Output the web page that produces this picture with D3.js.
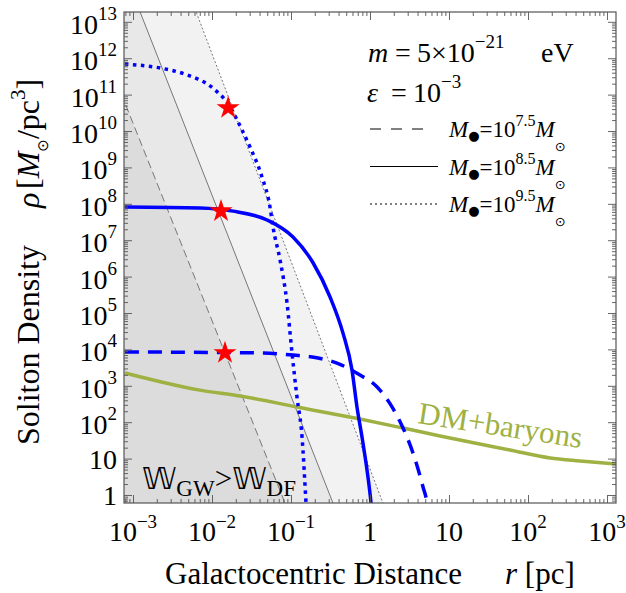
<!DOCTYPE html>
<html>
<head>
<meta charset="utf-8">
<script src="https://cdn.jsdelivr.net/npm/d3@7"></script>
<style>
  body { margin: 0; background: #fff; }
  text { font-family: "Liberation Serif", "Times New Roman", serif; fill: #000; }
</style>
</head>
<body>
<div id="chart"></div>
<script>
// soliton profiles
const solid85R = [7.9e-4, 7.05e-3, 0.0185, 0.0497, 0.106, 0.19, 0.312, 0.455, 0.592, 0.684, 0.792, 0.916, 1.03, 1.06];
const solid85Rho = [8.2e7, 7.7e7, 6.3e7, 3.6e7, 1.22e7, 2.4e6, 2.75e5, 2.8e4, 2.7e3, 262, 39, 4.9, 0.6, 0.3];

const dotted95R = [7.9e-4, 2.2e-3, 4.8e-3, 0.0103, 0.016, 0.024, 0.0303, 0.043, 0.0542, 0.0592, 0.0726, 0.089, 0.103, 0.119, 0.138, 0.155, 0.158];
const dotted95Rho = [6.9e11, 5.4e11, 3.5e11, 1.5e11, 5.5e10, 1.07e10, 3.6e9, 5.4e8, 8.2e7, 2.3e7, 2.9e6, 1.9e5, 8.0e3, 492, 39, 0.6, 0.3];

const dashed75R = [7.9e-4, 0.0405, 0.106, 0.22, 0.382, 0.747, 1.23, 1.9, 2.62, 3.5, 4.69, 5.27, 5.4];
const dashed75Rho = [8.5e3, 8.0e3, 7.0e3, 5.8e3, 4.2e3, 1.98e3, 927, 262, 69, 14.3, 1.66, 0.6, 0.4];

// DM + baryons
const dmR = [7.9e-4, 7.05e-3, 0.0226, 0.119, 0.747, 2.62, 7.7, 59, 190, 455, 1300];
const dmRho = [2250, 760, 525, 262, 122, 69, 41.8, 17.2, 10.4, 8.6, 7.1];

// stars
const starR = [0.016, 0.013, 0.0146];
const starRho = [4.3e10, 6.3e7, 8.0e3];

// W_GW > W_DF boundaries (two points each): 10^7.5, 10^8.5, 10^9.5
const boundR = [[7.9e-4, 0.084], [1.23e-3, 0.34], [6.3e-3, 1.46]];
const boundRho = [[5.9e10, 0.6], [1.86e13, 0.6], [1.86e13, 0.6]];
const boundFill = ["#dcdcdc", "#e8e8e8", "#f2f2f2"];
const boundDash = ["8,4", null, "2,2"];

// ticks
const xTickVals = [1e-3, 1e-2, 1e-1, 1, 10, 100, 1000];
const xTickBase = ["10", "10", "10", "1", "10", "10", "10"];
const xTickExp = ["\u22123", "\u22122", "\u22121", "", "", "2", "3"];
const yTickVals = d3.range(0, 14).map(e => Math.pow(10, e));
const yTickBase = yTickVals.map((v, i) => i === 0 ? "1" : "10");
const yTickExp = yTickVals.map((v, i) => i < 2 ? "" : String(i));

const legendMass = ["7.5", "8.5", "9.5"];
const legendDash = ["11,10", null, "2,3"];

const W = 626, H = 593;
const L = 124, R = 616, T = 12, B = 503;

const svg = d3.select("#chart").append("svg")
    .attr("width", W)
    .attr("height", H);

const x = d3.scaleLog().domain([Math.pow(10, -3.114), Math.pow(10, 3.114)]).range([L, R]);
const y = d3.scaleLog().domain([Math.pow(10, -0.22), Math.pow(10, 13.27)]).range([B, T]);

svg.append("clipPath").attr("id", "clip")
    .append("rect").attr("x", L).attr("y", T).attr("width", R - L).attr("height", B - T);

const plot = svg.append("g").attr("clip-path", "url(#clip)");

// extend a two point line (log-log) far past the frame
const extend = (rs, ps) => {
    const x0 = Math.log10(rs[0]), y0 = Math.log10(ps[0]);
    const x1 = Math.log10(rs[1]), y1 = Math.log10(ps[1]);
    const k = (y1 - y0) / (x1 - x0);
    const top = 15, bot = -2;
    return [[Math.pow(10, x0 + (top - y0) / k), Math.pow(10, top)],
            [Math.pow(10, x0 + (bot - y0) / k), Math.pow(10, bot)]];
};

// shaded regions, widest first
[2, 1, 0].forEach(i => {
    const [p, q] = extend(boundR[i], boundRho[i]);
    const pts = [[x(p[0]), y(p[1])], [x(q[0]), y(q[1])], [0, y(q[1])], [0, y(p[1])]];
    plot.append("path")
        .attr("d", "M" + pts.join("L") + "Z")
        .attr("fill", boundFill[i]);
});
[0, 1, 2].forEach(i => {
    const [p, q] = extend(boundR[i], boundRho[i]);
    plot.append("line")
        .attr("x1", x(p[0])).attr("y1", y(p[1]))
        .attr("x2", x(q[0])).attr("y2", y(q[1]))
        .attr("stroke", "#6a6a6a")
        .attr("stroke-width", 0.9)
        .attr("stroke-dasharray", boundDash[i]);
});

const line = d3.line()
    .x(d => x(d[0]))
    .y(d => y(d[1]))
    .curve(d3.curveMonotoneX);

const curve = (rs, ps, color, dash) => plot.append("path")
    .attr("d", line(rs.map((r, i) => [r, ps[i]])))
    .attr("fill", "none")
    .attr("stroke", color)
    .attr("stroke-width", 3.5)
    .attr("stroke-dasharray", dash);

curve(dmR, dmRho, "#a0b143", null);
curve(dashed75R, dashed75Rho, "#0000ff", "14,9");
curve(solid85R, solid85Rho, "#0000ff", null);
curve(dotted95R, dotted95Rho, "#0000ff", "3.5,4.5");

const star = d3.symbol().type(d3.symbolStar).size(165);
plot.selectAll(".star")
    .data(starR.map((r, i) => [r, starRho[i]]))
    .enter().append("path")
    .attr("class", "star")
    .attr("d", star)
    .attr("transform", d => `translate(${x(d[0])},${y(d[1])})`)
    .attr("fill", "#ff0000");

// frame and ticks
const minorX = x.ticks(40).filter(v => !xTickVals.some(t => Math.abs(t - v) / v < 1e-6));
const minorY = y.ticks(60).filter(v => Math.abs(Math.log10(v) - Math.round(Math.log10(v))) > 1e-6);
const tickColor = "#555";

const axis = (gen, scale, vals, size, tr) => {
    const g = svg.append("g").attr("transform", tr)
        .call(gen(scale).tickValues(vals).tickSize(-size).tickFormat(""));
    g.select(".domain").remove();
    g.selectAll("line").attr("stroke", tickColor).attr("stroke-width", 0.9);
};
axis(d3.axisBottom, x, xTickVals, 8, `translate(0,${B})`);
axis(d3.axisBottom, x, minorX, 4, `translate(0,${B})`);
axis(d3.axisTop, x, xTickVals, 8, `translate(0,${T})`);
axis(d3.axisTop, x, minorX, 4, `translate(0,${T})`);
axis(d3.axisLeft, y, yTickVals, 8, `translate(${L},0)`);
axis(d3.axisLeft, y, minorY, 4, `translate(${L},0)`);
axis(d3.axisRight, y, yTickVals, 8, `translate(${R},0)`);
axis(d3.axisRight, y, minorY, 4, `translate(${R},0)`);

svg.append("rect")
    .attr("x", L).attr("y", T).attr("width", R - L).attr("height", B - T)
    .attr("fill", "none").attr("stroke", tickColor).attr("stroke-width", 1.2);

// tick labels
xTickVals.forEach((v, i) => {
    const t = svg.append("text")
        .attr("x", x(v)).attr("y", 541)
        .attr("text-anchor", "middle")
        .attr("font-size", 28);
    t.append("tspan").text(xTickBase[i]);
    if (xTickExp[i]) t.append("tspan").attr("font-size", 19).attr("dy", -13).text(xTickExp[i]);
});
yTickVals.forEach((v, i) => {
    const t = svg.append("text")
        .attr("x", 117).attr("y", y(v) + (yTickExp[i] ? 12 : 10))
        .attr("text-anchor", "end")
        .attr("font-size", 28);
    t.append("tspan").text(yTickBase[i]);
    if (yTickExp[i]) t.append("tspan").attr("font-size", 19).attr("dy", -14).text(yTickExp[i]);
});

// axis titles
const xt = svg.append("text").attr("x", 165).attr("y", 584).attr("font-size", 31);
xt.append("tspan").text("Galactocentric Distance");
xt.append("tspan").attr("x", 505).attr("font-style", "italic").text("r");
xt.append("tspan").text(" [pc]");

const yt = svg.append("text").attr("transform", "translate(39,445) rotate(-90)").attr("font-size", 32);
yt.append("tspan").text("Soliton Density");
yt.append("tspan").attr("x", 237).attr("font-style", "italic").text("\u03c1");
yt.append("tspan").attr("x", 256).text("[");
yt.append("tspan").attr("font-style", "italic").text("M");
yt.append("tspan").attr("font-size", 15).attr("dy", 9).style("font-family", "DejaVu Sans").text("\u2299");
yt.append("tspan").attr("dy", -9).text("/pc");
yt.append("tspan").attr("font-size", 21).attr("dy", -14).text("3");
yt.append("tspan").attr("dy", 14).text("]");

// parameters
const mt = svg.append("text").attr("y", 62).attr("font-size", 28);
mt.append("tspan").attr("x", 368).attr("font-style", "italic").text("m");
mt.append("tspan").attr("x", 395).text("=");
mt.append("tspan").attr("x", 417).text("5\u00d710");
mt.append("tspan").attr("font-size", 19).attr("dy", -14).text("\u221221");
mt.append("tspan").attr("x", 541).attr("dy", 14).text("eV");

const et = svg.append("text").attr("y", 102).attr("font-size", 28);
et.append("tspan").attr("x", 367).attr("font-style", "italic").text("\u03b5");
et.append("tspan").attr("x", 391).text("=");
et.append("tspan").attr("x", 413).text("10");
et.append("tspan").attr("font-size", 19).attr("dy", -14).text("\u22123");

// legend
legendMass.forEach((m, i) => {
    const base = 137 + i * 37.5;
    svg.append("line")
        .attr("x1", 370).attr("x2", i === 0 ? 425 : 438)
        .attr("y1", base - 8).attr("y2", base - 8)
        .attr("stroke", "#000").attr("stroke-width", 1)
        .attr("stroke-dasharray", legendDash[i]);
    const t = svg.append("text").attr("x", 449).attr("y", base).attr("font-size", 23);
    t.append("tspan").attr("font-style", "italic").text("M");
    t.append("tspan").attr("font-size", 13).attr("dy", 3).style("font-family", "DejaVu Sans").text("\u25cf");
    t.append("tspan").attr("dy", -3).text("=10");
    t.append("tspan").attr("font-size", 16).attr("dy", -11).text(m);
    t.append("tspan").attr("font-style", "italic").attr("dy", 11).text("M");
    t.append("tspan").attr("font-size", 13).attr("dy", 14).style("font-family", "DejaVu Sans").text("\u2299");
});

// region label
const wt = svg.append("text").attr("x", 142).attr("y", 489).attr("font-size", 31);
wt.append("tspan").style("font-family", "DejaVu Sans").text("\ud835\udd4e");
wt.append("tspan").attr("font-size", 23).attr("dy", 7).text("GW");
wt.append("tspan").attr("dy", -7).text(">");
wt.append("tspan").style("font-family", "DejaVu Sans").text("\ud835\udd4e");
wt.append("tspan").attr("font-size", 23).attr("dy", 7).text("DF");

svg.append("text")
    .attr("transform", "translate(417,423) rotate(8.7)")
    .attr("font-size", 31)
    .style("fill", "#a0b143")
    .text("DM+baryons");
</script>
</body>
</html>
